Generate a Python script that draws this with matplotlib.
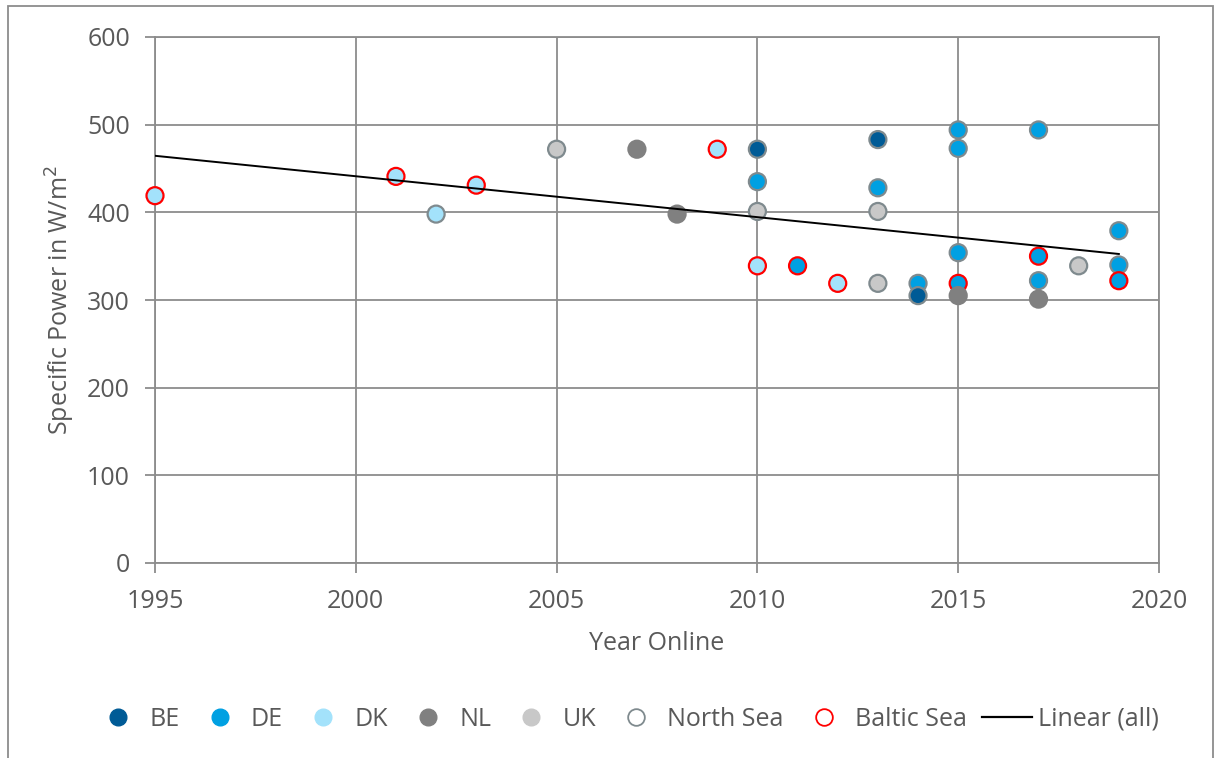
import numpy as np
import matplotlib.pyplot as plt
from matplotlib.lines import Line2D
from matplotlib.patches import Rectangle

plt.rcParams['font.family'] = ['Open Sans', 'DejaVu Sans']

# data: year online, specific power (W/m2), sea
de_year  = [2010, 2011, 2013, 2014, 2015, 2015, 2015, 2015, 2017, 2017, 2017, 2019, 2019, 2019]
de_power = [435, 339, 428, 319, 494, 473, 354, 319, 494, 350, 322, 379, 340, 322]
de_sea   = ['N', 'B', 'N', 'N', 'N', 'N', 'N', 'B', 'N', 'B', 'N', 'N', 'N', 'B']

dk_year  = [1995, 2001, 2002, 2003, 2009, 2010, 2012]
dk_power = [419, 441, 398, 431, 472, 339, 319]
dk_sea   = ['B', 'B', 'N', 'B', 'B', 'B', 'B']

uk_year  = [2005, 2010, 2013, 2013, 2018]
uk_power = [472, 401, 401, 319, 339]
uk_sea   = ['N', 'N', 'N', 'N', 'N']

be_year  = [2010, 2013, 2014]
be_power = [472, 483, 305]
be_sea   = ['N', 'N', 'N']

nl_year  = [2007, 2008, 2015, 2017]
nl_power = [472, 398, 305, 301]
nl_sea   = ['-', '-', '-', '-']

# linear trend (all) as shown in the chart
trend_year  = [1995, 2019]
trend_power = [464.5, 352.5]

colors = {'BE': '#005B96', 'DE': '#00A0E2', 'DK': '#A3E2FB',
          'NL': '#808080', 'UK': '#C8C8C8'}
edge = {'N': '#7F8A8E', 'B': '#FF0000', '-': '#808080'}

fig = plt.figure(figsize=(12.16, 7.58), dpi=100)
ax = fig.add_axes([155/1216, 1-563/758, (1159-155)/1216, (563-37)/758])

series = [('DE', de_year, de_power, de_sea),
          ('DK', dk_year, dk_power, dk_sea),
          ('UK', uk_year, uk_power, uk_sea),
          ('BE', be_year, be_power, be_sea),
          ('NL', nl_year, nl_power, nl_sea)]
for name, yr, pw, sea in series:
    ax.scatter(yr, pw, s=150, c=colors[name], edgecolors=[edge[s] for s in sea],
               linewidths=1.6, zorder=3, clip_on=False)

ax.plot(trend_year, trend_power, color='black', lw=1.4, zorder=4)

ax.set_xlim(1995, 2020)
ax.set_ylim(0, 600)
ax.set_xticks(range(1995, 2021, 5))
ax.set_yticks(range(0, 601, 100))
ax.grid(True, color='#8C8C8C', lw=1.3)
ax.set_axisbelow(True)
for sp in ax.spines.values():
    sp.set_color('#8C8C8C')
    sp.set_linewidth(1.3)
ax.tick_params(colors='#8C8C8C', labelcolor='#595959', labelsize=18, length=7,
               width=1.3, pad=11)
ax.tick_params(axis='x', pad=12)
ax.set_xlabel('Year Online', fontsize=18, color='#595959', labelpad=12)
ax.set_ylabel('Specific Power in W/m$^2$', fontsize=18, color='#595959', labelpad=7)

handles = [Line2D([], [], ls='', marker='o', ms=12, mfc=colors[n], mec=colors[n])
           for n in ['BE', 'DE', 'DK', 'NL', 'UK']]
handles += [Line2D([], [], ls='', marker='o', ms=12, mfc='white', mec='#7F8A8E', mew=1.3),
            Line2D([], [], ls='', marker='o', ms=12, mfc='white', mec='#FF0000', mew=1.3),
            Line2D([], [], color='black', lw=1.6)]
labels = ['BE', 'DE', 'DK', 'NL', 'UK', 'North Sea', 'Baltic Sea', 'Linear (all)']
leg = fig.legend(handles, labels, loc='center', bbox_to_anchor=(626/1216, 1-719/758),
                 ncol=8, frameon=False, fontsize=18, handlelength=2.0,
                 columnspacing=0.6, handletextpad=0.25)
for t in leg.get_texts():
    t.set_color('#595959')

fig.patches.append(Rectangle((8/1216, -0.05), (1213-8)/1216, 1.05-6/758,
                             transform=fig.transFigure, fill=False,
                             edgecolor='#8C8C8C', lw=1.3))

fig.savefig('out.png', dpi=100)
